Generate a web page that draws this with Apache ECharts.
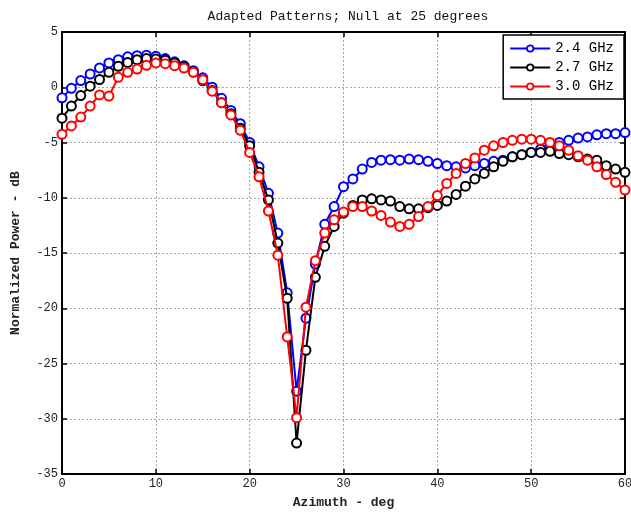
<!DOCTYPE html>
<html>
<head>
<meta charset="utf-8">
<script src="https://cdn.jsdelivr.net/npm/echarts@6/dist/echarts.min.js"></script>
<style>html,body{margin:0;padding:0;background:#fff}#c{width:631px;height:516px}</style>
</head>
<body>
<div id="c"></div>
<script>
const azimuth = Array.from({length: 61}, (_, i) => i);
const seriesNames = ['2.4 GHz', '2.7 GHz', '3.0 GHz'];
const blue24 = [-0.96,-0.1,0.6,1.2,1.75,2.2,2.5,2.75,2.85,2.9,2.8,2.6,2.3,1.95,1.5,0.85,0.0,-1.0,-2.1,-3.3,-5.0,-7.2,-9.6,-13.2,-18.6,-27.5,-20.9,-16.0,-12.4,-10.8,-9.0,-8.3,-7.4,-6.8,-6.6,-6.55,-6.6,-6.5,-6.55,-6.7,-6.9,-7.1,-7.2,-7.3,-7.1,-6.9,-6.7,-6.6,-6.3,-6.1,-5.9,-5.6,-5.3,-5.0,-4.8,-4.6,-4.5,-4.3,-4.2,-4.2,-4.1];
const black27 = [-2.8,-1.7,-0.75,0.1,0.7,1.35,1.9,2.25,2.5,2.6,2.55,2.45,2.2,1.85,1.4,0.6,-0.3,-1.4,-2.4,-3.7,-5.3,-7.7,-10.2,-14.1,-19.1,-32.2,-23.8,-17.2,-14.4,-12.6,-11.4,-10.7,-10.2,-10.1,-10.2,-10.3,-10.8,-11.0,-11.0,-10.9,-10.7,-10.3,-9.7,-8.95,-8.3,-7.8,-7.2,-6.7,-6.3,-6.1,-5.9,-5.9,-5.8,-6.0,-6.1,-6.3,-6.5,-6.6,-7.1,-7.4,-7.7];
const red30 = [-4.26,-3.5,-2.7,-1.7,-0.7,-0.8,0.9,1.35,1.65,1.98,2.2,2.13,1.95,1.74,1.35,0.69,-0.36,-1.4,-2.5,-3.9,-5.9,-8.1,-11.2,-15.2,-22.6,-29.9,-19.9,-15.7,-13.2,-12.0,-11.3,-10.8,-10.8,-11.2,-11.6,-12.2,-12.6,-12.4,-11.7,-10.8,-9.8,-8.7,-7.8,-6.9,-6.4,-5.7,-5.3,-5.0,-4.8,-4.7,-4.7,-4.8,-5.0,-5.3,-5.7,-6.2,-6.6,-7.2,-7.9,-8.6,-9.3];
const colors = ['#0000ff', '#000000', '#ff0000'];
const xTicks = [0, 10, 20, 30, 40, 50, 60];
const yTicks = [5, 0, -5, -10, -15, -20, -25, -30, -35];

const FONT = '"Liberation Mono", "DejaVu Sans Mono", monospace';
const chart = echarts.init(document.getElementById('c'));
const dataSets = [blue24, black27, red30];

const mkSeries = (d, i) => ({
  name: seriesNames[i],
  type: 'line',
  data: d.map((v, k) => [azimuth[k], v]),
  symbol: 'circle',
  symbolSize: 9,
  showAllSymbol: true,
  lineStyle: {color: colors[i], width: 2},
  itemStyle: {color: '#ffffff', borderColor: colors[i], borderWidth: 2},
  color: colors[i],
  animation: false,
  z: 2 + i
});

const axisCommon = {
  axisLine: {show: true, onZero: false, lineStyle: {color: '#000', width: 2}},
  axisTick: {show: true, inside: true, length: 5, lineStyle: {color: '#000', width: 1.5}},
};

chart.setOption({
  animation: false,
  backgroundColor: '#ffffff',
  title: {
    text: 'Adapted Patterns; Null at 25 degrees',
    left: 343, top: 5, textAlign: 'center',
    textStyle: {fontFamily: FONT, fontSize: 13, fontWeight: 'normal', color: '#111'}
  },
  grid: {left: 62, right: 6, top: 32, bottom: 42, outerBoundsMode: 'none', containLabel: false},
  legend: {
    data: seriesNames.map((n, i) => ({name: n, itemStyle: {color: '#fff', borderColor: colors[i], borderWidth: 1.8}, lineStyle: {color: colors[i], width: 2}})),
    orient: 'vertical', right: 7, top: 35,
    backgroundColor: '#fff', borderColor: '#000', borderWidth: 1.5, borderRadius: 0,
    padding: [6, 10, 5, 6], itemGap: 4, itemWidth: 40, itemHeight: 8,
    textStyle: {fontFamily: FONT, fontSize: 14, color: '#000', lineHeight: 15}
  },
  xAxis: [{
    type: 'value', min: 0, max: 60, interval: 10, position: 'bottom',
    name: 'Azimuth - deg', nameLocation: 'middle', nameGap: 22,
    nameTextStyle: {fontFamily: FONT, fontSize: 13, fontWeight: 'bold', color: '#222'},
    axisLabel: {fontFamily: FONT, fontSize: 12, color: '#222', margin: 4,
      formatter: v => xTicks.includes(v) ? String(v) : ''},
    splitLine: {show: true, lineStyle: {color: '#aaa', type: [2, 2], width: 1}},
    ...axisCommon
  }, {
    type: 'value', min: 0, max: 60, interval: 10, position: 'top',
    axisLabel: {show: false}, splitLine: {show: false},
    ...axisCommon
  }],
  yAxis: [{
    type: 'value', min: -35, max: 5, interval: 5, position: 'left',
    name: 'Normalized Power - dB', nameLocation: 'middle', nameGap: 40,
    nameTextStyle: {fontFamily: FONT, fontSize: 13, fontWeight: 'bold', color: '#222'},
    axisLabel: {fontFamily: FONT, fontSize: 12, color: '#222', margin: 4,
      formatter: v => yTicks.includes(v) ? String(v) : ''},
    splitLine: {show: true, lineStyle: {color: '#aaa', type: [2, 2], width: 1}},
    ...axisCommon
  }, {
    type: 'value', min: -35, max: 5, interval: 5, position: 'right',
    axisLabel: {show: false}, splitLine: {show: false},
    ...axisCommon
  }],
  series: dataSets.map(mkSeries)
});
</script>
</body>
</html>
